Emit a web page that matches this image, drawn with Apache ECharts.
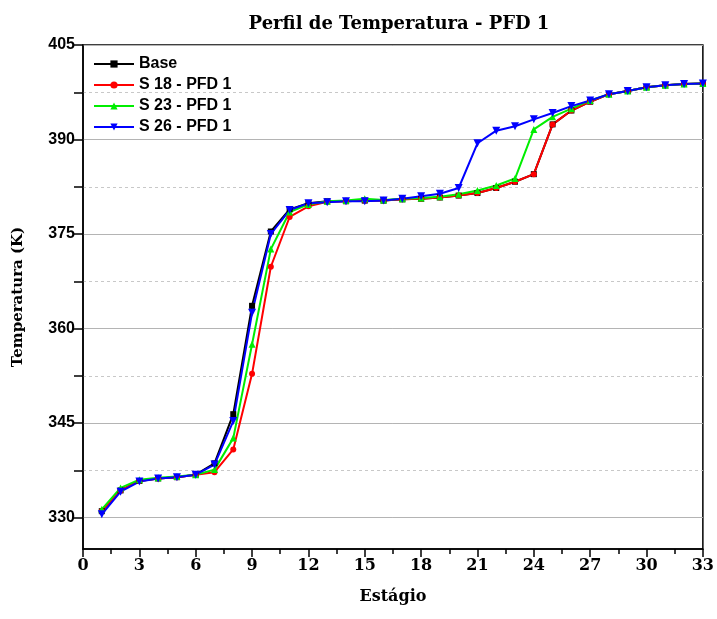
<!DOCTYPE html>
<html>
<head>
<meta charset="utf-8">
<script src="https://cdn.jsdelivr.net/npm/echarts@6/dist/echarts.min.js"></script>
<style>html,body{margin:0;padding:0;background:#fff}#c{width:717px;height:619px}</style>
</head>
<body>
<div id="c"></div>
<script>
const stages = [1,2,3,4,5,6,7,8,9,10,11,12,13,14,15,16,17,18,19,20,21,22,23,24,25,26,27,28,29,30,31,32,33];
const base = [331.0,334.3,335.8,336.2,336.4,336.8,338.6,346.4,363.6,375.4,378.9,379.9,380.2,380.2,380.3,380.3,380.5,380.6,380.8,381.1,381.5,382.3,383.3,384.5,392.4,394.6,396.0,397.2,397.7,398.3,398.6,398.8,398.9];
const s18 = [331.0,334.3,335.8,336.2,336.4,336.8,337.2,340.8,352.8,369.8,377.7,379.4,380.1,380.2,380.3,380.3,380.5,380.6,380.8,381.1,381.5,382.3,383.3,384.5,392.4,394.6,396.0,397.2,397.7,398.3,398.6,398.8,398.9];
const s23 = [331.3,334.7,336.0,336.3,336.5,336.8,337.6,342.6,357.5,372.6,378.5,379.7,380.2,380.3,380.6,380.4,380.6,380.7,380.9,381.3,381.9,382.7,383.8,391.6,393.6,394.9,396.2,397.2,397.7,398.3,398.6,398.8,398.9];
const s26 = [330.5,334.1,335.7,336.2,336.4,336.8,338.4,345.3,362.5,375.0,378.8,379.9,380.05,380.2,380.2,380.3,380.6,381.0,381.4,382.3,389.4,391.4,392.1,393.2,394.2,395.3,396.2,397.2,397.7,398.3,398.6,398.8,398.9];
const yMajorTicks = [330,345,360,375,390,405];
const yMinorTicks = [337.5,352.5,367.5,382.5,397.5];
const seriesNames = ['Base','S 18 - PFD 1','S 23 - PFD 1','S 26 - PFD 1'];

const pair = arr => stages.map((s,i)=>[s,arr[i]]);
const serif = '"DejaVu Serif", serif';
const sans = '"Liberation Sans", Arial, sans-serif';

const chart = echarts.init(document.getElementById('c'), null, {renderer:'canvas'});
const mk = (name, data, color, symbol, size) => ({
  name, type:'line', data: pair(data), symbol, symbolSize:size,
  lineStyle:{color, width:2}, itemStyle:{color}, color, z: 2
});
chart.setOption({
  animation:false,
  backgroundColor:'#fff',
  title:{text:'Perfil de Temperatura - PFD 1', left:394, textAlign:'center', top:10,
    textStyle:{fontFamily:serif, fontWeight:'bold', fontSize:18, color:'#000'}},
  grid:{left:83, right:7, top:45, bottom:70, show:true, borderColor:'#000', borderWidth:1.5, backgroundColor:'transparent'},
  legend:{orient:'vertical', left:88, top:51, itemWidth:40, itemHeight:9, itemGap:5,
    data:seriesNames,
    textStyle:{fontFamily:sans, fontWeight:'bold', fontSize:16, color:'#000'}},
  xAxis:{type:'value', min:0, max:33, interval:3,
    name:'Estágio', nameLocation:'middle', nameGap:40,
    nameTextStyle:{fontFamily:serif, fontWeight:'bold', fontSize:16, color:'#000'},
    axisLine:{show:true, lineStyle:{color:'#000', width:1.5}},
    axisTick:{show:true, inside:false, length:8, lineStyle:{color:'#000', width:1.5}},
    minorTick:{show:true, splitNumber:2, length:5, lineStyle:{color:'#000', width:1.5}},
    axisLabel:{fontFamily:serif, fontWeight:'bold', fontSize:16, color:'#000', margin:9},
    splitLine:{show:false}},
  yAxis:[{type:'value', min:325, max:405, position:'left',
    name:'Temperatura (K)', nameLocation:'middle', nameGap:57,
    nameTextStyle:{fontFamily:serif, fontWeight:'bold', fontSize:15, color:'#000'},
    axisLine:{show:true, lineStyle:{color:'#000', width:1.5}},
    axisTick:{show:true, inside:false, length:9, customValues:yMajorTicks, lineStyle:{color:'#000', width:1.5}},
    axisLabel:{customValues:yMajorTicks, fontFamily:sans, fontWeight:'bold', fontSize:16, color:'#000', margin:8},
    splitLine:{show:true, lineStyle:{color:'#b4b4b4', width:1, type:'solid'}}},
   {type:'value', min:325, max:405, position:'left', offset:0,
    axisLine:{show:false},
    axisTick:{show:true, inside:false, length:9, customValues:yMinorTicks, lineStyle:{color:'#000', width:1.5}},
    axisLabel:{show:false},
    splitLine:{show:true, lineStyle:{color:'#c8c8c8', width:1, type:[3,3]}}}],
  series:[
    mk(seriesNames[0], base, '#000000', 'rect', 6),
    mk(seriesNames[1], s18, '#ff0000', 'circle', 6),
    mk(seriesNames[2], s23, '#00ee00', 'triangle', 7),
    Object.assign(mk(seriesNames[3], s26, '#0000ff', 'triangle', 8), {symbolRotate:180})
  ]
});
</script>
</body>
</html>
